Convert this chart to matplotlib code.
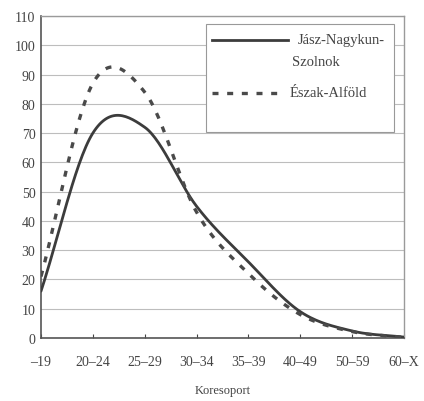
import numpy as np
import matplotlib
matplotlib.use("Agg")
import matplotlib.pyplot as plt
from matplotlib.lines import Line2D
from matplotlib.patches import Rectangle

categories = ["\u201319", "20\u201324", "25\u201329", "30\u201334", "35\u201339", "40\u201349", "50\u201359", "60\u2013X"]
jasz = [16, 70, 72, 45, 26, 9, 2.4, 0.3]
eszak = [21, 87, 84, 43, 22, 8, 2.2, 0.2]
series_names = ["J\u00e1sz-Nagykun-", "Szolnok", "\u00c9szak-Alf\u00f6ld"]
yticks = list(range(0, 111, 10))
xlabel = "Koresoport"


def catmull_rom(x, y, n=30):
    x = np.asarray(x, float)
    y = np.asarray(y, float)
    px = np.concatenate([[2 * x[0] - x[1]], x, [2 * x[-1] - x[-2]]])
    py = np.concatenate([[2 * y[0] - y[1]], y, [2 * y[-1] - y[-2]]])
    xs, ys = [], []
    t = np.linspace(0, 1, n, endpoint=False)
    for i in range(1, len(px) - 2):
        p0, p1, p2, p3 = (np.array([px[j], py[j]]) for j in range(i - 1, i + 3))
        for tt in t:
            pt = 0.5 * ((2 * p1) + (-p0 + p2) * tt + (2 * p0 - 5 * p1 + 4 * p2 - p3) * tt ** 2
                        + (-p0 + 3 * p1 - 3 * p2 + p3) * tt ** 3)
            xs.append(pt[0]); ys.append(pt[1])
    xs.append(x[-1]); ys.append(y[-1])
    return np.array(xs), np.array(ys)


plt.rcParams['font.family'] = ['Liberation Serif', 'DejaVu Serif']
fig = plt.figure(figsize=(4.24, 4.02), dpi=100)
ax = fig.add_axes([41 / 424, 1 - 339 / 402, (404 - 41) / 424, (339 - 17) / 402])

solid_color = "#3c3c3c"
dash_color = "#4a4a4a"
dash_style = (0, (1.8, 2.6))

xi = np.arange(len(categories))
sx, sy = catmull_rom(xi, jasz)
ax.plot(sx, sy, color=solid_color, lw=2.0, solid_capstyle="round", zorder=3)
dx, dy = catmull_rom(xi, eszak)
ax.plot(dx, dy, color=dash_color, lw=2.4, linestyle=dash_style, zorder=3)

ax.set_xlim(0, len(categories) - 1)
ax.set_ylim(0, 110)
ax.set_yticks(yticks)
ax.set_xticks(xi)
ax.set_xticklabels(categories)
ax.tick_params(axis='both', labelsize=10, colors="#444444", length=3, width=0.8)
ax.tick_params(axis='x', pad=12, direction='in')
ax.tick_params(axis='y', pad=4, direction='out', length=0)
ax.yaxis.grid(True, color="#bdbdbd", lw=0.8)
ax.set_axisbelow(True)
for s in ["left", "bottom"]:
    ax.spines[s].set_color("#555555")
    ax.spines[s].set_linewidth(1.2)
for s in ["top", "right"]:
    ax.spines[s].set_color("#9a9a9a")
    ax.spines[s].set_linewidth(1.0)

ax.set_xlabel(xlabel, fontsize=9, color="#444444", labelpad=12)

# legend box drawn manually (handle aligned to first text line, as in the original)
tr = ax.transAxes
ax.add_patch(Rectangle((0.4545, 0.6398), 0.518, 0.3354, transform=tr, facecolor="white",
                       edgecolor="#999999", lw=0.8, zorder=5))
ax.add_line(Line2D([0.471, 0.680], [0.9255, 0.9255], transform=tr, color=solid_color, lw=2.0, zorder=6))
ax.add_line(Line2D([0.471, 0.672], [0.761, 0.761], transform=tr, color=dash_color, lw=2.4,
                   linestyle=dash_style, zorder=6))
txt = dict(transform=tr, fontsize=10.5, color="#444444", va="center", ha="left", zorder=7)
ax.text(0.708, 0.9255, series_names[0], **txt)
ax.text(0.691, 0.860, series_names[1], **txt)
ax.text(0.686, 0.761, series_names[2], **txt)

fig.savefig("out.png", dpi=100)
